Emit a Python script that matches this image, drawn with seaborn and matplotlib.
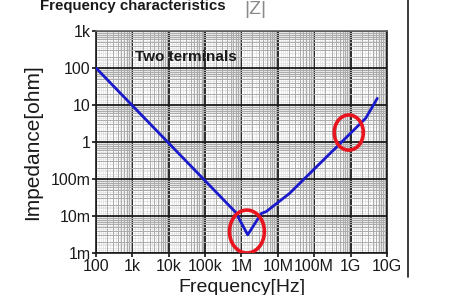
import numpy as np
import pandas as pd
import matplotlib
matplotlib.use("Agg")
import matplotlib.pyplot as plt
import matplotlib.ticker as mticker
from matplotlib.lines import Line2D
import seaborn as sns

# ---- data ----
freq_hz = [1e2, 6.9e5, 1.48e6, 3.5e6, 4.8e6, 2.1e7, 4.8e8, 2.6e9, 5.4e9]
impedance_ohm = [100, 0.0126, 0.0031, 0.0117, 0.0132, 0.041, 0.85, 4.4, 15.1]

x_ticks = [1e2, 1e3, 1e4, 1e5, 1e6, 1e7, 1e8, 1e9, 1e10]
x_tick_labels = ["100", "1k", "10k", "100k", "1M", "10M", "100M", "1G", "10G"]
y_ticks = [1e-3, 1e-2, 1e-1, 1, 10, 100, 1000]
y_tick_labels = ["1m", "10m", "100m", "1", "10", "100", "1k"]

# highlighted regions (centre freq, centre impedance, width/height in decades)
mark_freq = [1.41e6, 8.9e8]
mark_imp = [0.0038, 1.8]
mark_w_dec = [0.96, 0.80]
mark_h_dec = [1.16, 0.95]

title_text = "Frequency characteristics"
z_text = "|Z|"
note_text = "Two terminals"
xlabel_text = "Frequency[Hz]"
ylabel_text = "Impedance[ohm]"

sns.set_theme(style="white")
plt.rcParams["font.family"] = ["Liberation Sans", "DejaVu Sans"]

fig = plt.figure(figsize=(4.6, 2.95), dpi=100)
ax = fig.add_axes([96 / 460, 1 - 253 / 295, 291 / 460, 222 / 295])

df = pd.DataFrame({"f": freq_hz, "z": impedance_ohm})
ax.set_xscale("log")
ax.set_yscale("log")
ax.set_xlim(1e2, 1e10)
ax.set_ylim(1e-3, 1e3)

# log-paper grid
fine_subs = [1.2, 1.4, 1.6, 1.8, 2.5, 3.5, 4.5, 5.5, 6.5, 7.5, 8.5, 9.5]
for axis in (ax.xaxis, ax.yaxis):
    axis.set_minor_locator(mticker.LogLocator(base=10, subs=[2, 3, 4, 5, 6, 7, 8, 9], numticks=20))
for d in range(2, 10):
    for s in fine_subs:
        ax.axvline(s * 10 ** d, color="#e0e0e0", lw=0.5, zorder=0)
for d in range(-3, 3):
    for s in fine_subs:
        ax.axhline(s * 10 ** d, color="#e0e0e0", lw=0.5, zorder=0)
ax.grid(which="minor", color="#ababab", lw=0.7, zorder=1)
ax.grid(which="major", color="#1a1a1a", lw=1.3, zorder=2)

sns.lineplot(data=df, x="f", y="z", ax=ax, color="#1a1acc", lw=2.0, zorder=5)

# red ellipses drawn in log space
t = np.linspace(0, 2 * np.pi, 200)
for fc, zc, wd, hd in zip(mark_freq, mark_imp, mark_w_dec, mark_h_dec):
    lx = np.log10(fc) + wd / 2 * np.cos(t)
    ly = np.log10(zc) + hd / 2 * np.sin(t)
    ax.plot(10 ** lx, 10 ** ly, color="#e8141e", lw=2.6, zorder=6)

ax.set_xticks(x_ticks)
ax.set_xticklabels(x_tick_labels)
ax.set_yticks(y_ticks)
ax.set_yticklabels(y_tick_labels)
ax.tick_params(axis="both", which="major", labelsize=11.5, pad=1, length=3,
               color="#1a1a1a", labelcolor="#1a1a1a", direction="out",
               left=True, bottom=True)
ax.tick_params(which="minor", length=0)
ax.set_xlabel(xlabel_text, fontsize=14, color="#1a1a1a", labelpad=4)
ax.set_ylabel(ylabel_text, fontsize=15, color="#1a1a1a", labelpad=6)
for sp in ax.spines.values():
    sp.set_color("#1a1a1a")
    sp.set_linewidth(1.2)
    sp.set_visible(True)
ax.spines["top"].set_color("#666666")

ax.text(0.135, 0.885, note_text, transform=ax.transAxes, fontsize=11,
        fontweight="bold", color="#1a1a1a", va="center", ha="left", zorder=7)

fig.text(40 / 460, 1 - 6 / 295, title_text, fontsize=10.8, fontweight="bold",
         color="#1a1a1a", va="center", ha="left")
fig.text(255 / 460, 1 - 9 / 295, z_text, fontsize=14, color="#8a8a8a",
         va="center", ha="center")
fig.add_artist(Line2D([408 / 460, 408 / 460], [1 - 277 / 295, 1.0],
                      transform=fig.transFigure, color="#1a1a1a", lw=1.2))

fig.savefig("out.png", dpi=100, facecolor="white")
